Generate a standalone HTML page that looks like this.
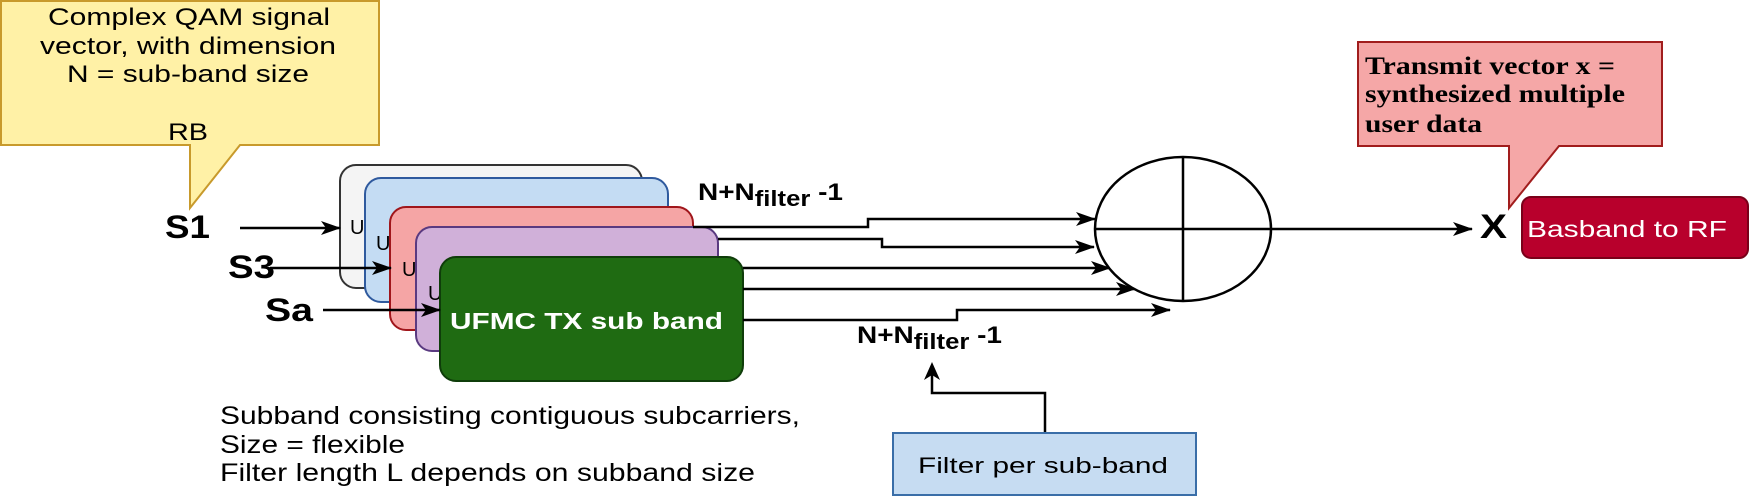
<!DOCTYPE html>
<html><head><meta charset="utf-8"><style>html,body{margin:0;padding:0;background:#fff}svg{display:block}</style></head>
<body>
<svg width="1750" height="496" viewBox="0 0 1750 496" xmlns="http://www.w3.org/2000/svg" font-family="Liberation Sans, Arial, sans-serif">
<defs>
<marker id="a" viewBox="0 0 20 14" refX="19" refY="7" markerWidth="20" markerHeight="14" markerUnits="userSpaceOnUse" orient="auto">
<path d="M0,0 L20,7 L0,14 L5,7 Z" fill="#000"/>
</marker>
</defs>
<rect width="1750" height="496" fill="#fff"/>

<path d="M1,1 H379 V145 H240 L190,208 V145 H1 Z" fill="#fff1a6" stroke="#c89a2c" stroke-width="2"/>
<g font-size="24" fill="#000">
<text x="48" y="25" textLength="282" lengthAdjust="spacingAndGlyphs">Complex QAM signal</text>
<text x="40" y="54" textLength="296" lengthAdjust="spacingAndGlyphs">vector, with dimension</text>
<text x="67" y="82" textLength="242" lengthAdjust="spacingAndGlyphs">N = sub-band size</text>
<text x="168" y="140" textLength="40" lengthAdjust="spacingAndGlyphs">RB</text>
</g>

<rect x="340" y="165" width="302" height="123" rx="16" fill="#f4f4f4" stroke="#333" stroke-width="2"/>
<text x="350" y="234" font-size="20">U</text>
<rect x="365" y="178" width="303" height="124" rx="16" fill="#c4dcf3" stroke="#2f5a9e" stroke-width="2"/>
<text x="376" y="250" font-size="20">U</text>
<rect x="390" y="207" width="303" height="123" rx="16" fill="#f5a5a5" stroke="#a0161b" stroke-width="2"/>
<text x="402" y="276" font-size="20">U</text>
<rect x="416" y="227" width="302" height="124" rx="16" fill="#d0b0d9" stroke="#5a3a80" stroke-width="2"/>
<text x="428" y="300" font-size="20">U</text>
<rect x="440" y="257" width="303" height="124" rx="16" fill="#1f6b12" stroke="#0f3d0a" stroke-width="2"/>
<text x="450" y="329" font-size="23" font-weight="bold" fill="#fff" textLength="273" lengthAdjust="spacingAndGlyphs">UFMC TX sub band</text>

<g font-size="32" font-weight="bold">
<text x="165" y="238" textLength="45" lengthAdjust="spacingAndGlyphs">S1</text>
<text x="228" y="278" textLength="47" lengthAdjust="spacingAndGlyphs">S3</text>
<text x="265" y="321" textLength="48" lengthAdjust="spacingAndGlyphs">Sa</text>
</g>
<g stroke="#000" stroke-width="2.5" fill="none" marker-end="url(#a)">
<line x1="240" y1="228" x2="340" y2="228"/>
<line x1="270" y1="268" x2="391" y2="268"/>
<line x1="323" y1="310" x2="440" y2="310"/>
<polyline points="693,227 868,227 868,219 1095,219"/>
<polyline points="718,239 882,239 882,247 1094,247"/>
<line x1="743" y1="268" x2="1110" y2="268"/>
<line x1="743" y1="289" x2="1135" y2="289"/>
<polyline points="743,320 957,320 957,310 1170,310"/>
<line x1="1272" y1="229" x2="1472" y2="229"/>
</g>
<polyline points="1045,433 1045,393 932,393 932,372" stroke="#000" stroke-width="2.5" fill="none"/>
<path d="M932,362 L940,380 L932,375 L924,380 Z" fill="#000"/>

<g font-weight="bold" fill="#000">
<text x="698" y="200" font-size="24" textLength="145" lengthAdjust="spacingAndGlyphs">N+N<tspan font-size="22" dy="6">filter</tspan><tspan dy="-6"> -1</tspan></text>
<text x="857" y="343" font-size="24" textLength="145" lengthAdjust="spacingAndGlyphs">N+N<tspan font-size="22" dy="6">filter</tspan><tspan dy="-6"> -1</tspan></text>
</g>

<ellipse cx="1183" cy="229" rx="88" ry="72" fill="#fff" stroke="#000" stroke-width="2.5"/>
<line x1="1095" y1="229" x2="1272" y2="229" stroke="#000" stroke-width="2.5"/>
<line x1="1183" y1="157" x2="1183" y2="301" stroke="#000" stroke-width="2.5"/>

<path d="M1358,42 H1662 V146 H1559 L1509,208 V146 H1358 Z" fill="#f5a7a7" stroke="#a11d1d" stroke-width="2"/>
<g font-family="Liberation Serif, Times New Roman, serif" font-weight="bold" font-size="25">
<text x="1365" y="74" textLength="250" lengthAdjust="spacingAndGlyphs">Transmit vector x =</text>
<text x="1365" y="102" textLength="260" lengthAdjust="spacingAndGlyphs">synthesized multiple</text>
<text x="1365" y="132" textLength="117" lengthAdjust="spacingAndGlyphs">user data</text>
</g>

<text x="1480" y="238" font-size="34" font-weight="bold" textLength="27" lengthAdjust="spacingAndGlyphs">X</text>
<rect x="1522" y="197" width="226" height="61" rx="9" fill="#b8002c" stroke="#7a0019" stroke-width="2"/>
<text x="1527" y="237" font-size="23" fill="#fff" textLength="200" lengthAdjust="spacingAndGlyphs">Basband to RF</text>

<rect x="893" y="433" width="303" height="62" fill="#c6dcf2" stroke="#3a6ea8" stroke-width="2"/>
<text x="918" y="473" font-size="22" textLength="250" lengthAdjust="spacingAndGlyphs">Filter per sub-band</text>

<g font-size="25">
<text x="220" y="424" textLength="580" lengthAdjust="spacingAndGlyphs">Subband consisting contiguous subcarriers,</text>
<text x="220" y="453" textLength="185" lengthAdjust="spacingAndGlyphs">Size = flexible</text>
<text x="220" y="481" textLength="535" lengthAdjust="spacingAndGlyphs">Filter length L depends on subband size</text>
</g>
</svg>
</body></html>
